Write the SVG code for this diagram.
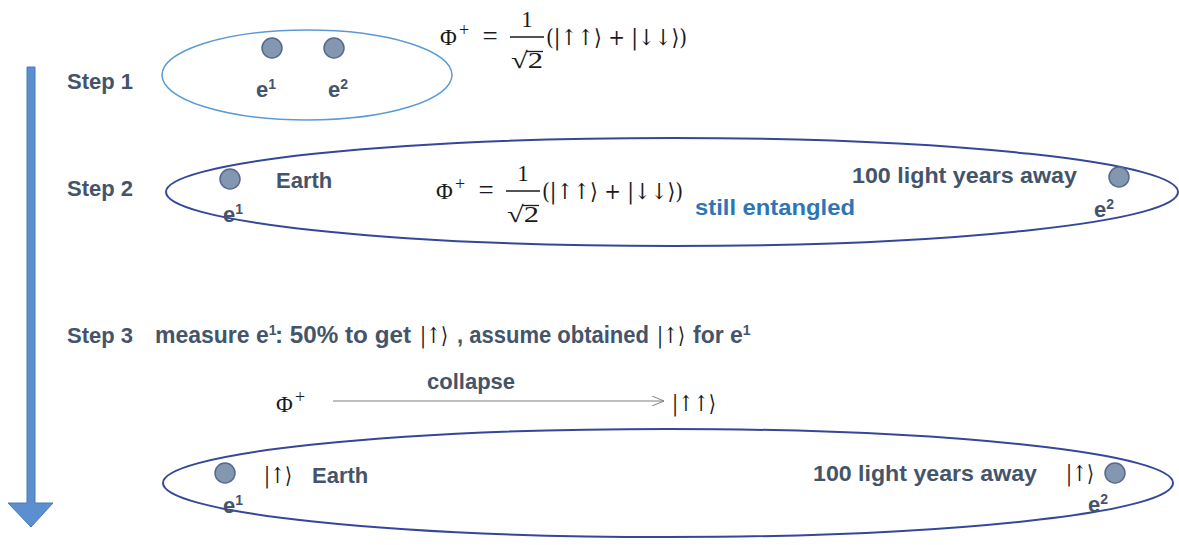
<svg xmlns="http://www.w3.org/2000/svg" width="1179" height="545" viewBox="0 0 1179 545">
<defs>
<style>
.b{font-family:"Liberation Sans",Arial,sans-serif;font-weight:bold;font-size:22px;fill:#44546a}
.b3{font-family:"Liberation Sans",Arial,sans-serif;font-weight:bold;font-size:23px;fill:#44546a}
.sup{font-family:"Liberation Sans",Arial,sans-serif;font-weight:bold;font-size:14px;fill:#44546a}
.m{font-family:"Liberation Serif","DejaVu Serif",serif;font-size:23px;fill:#1a1a1a}
.k{font-family:"DejaVu Serif",serif;font-size:22px;fill:#1a1a1a}
.ms{font-family:"Liberation Serif","DejaVu Serif",serif;font-size:18px;fill:#1a1a1a}
.bl{font-family:"Liberation Sans",Arial,sans-serif;font-weight:bold;font-size:22px;fill:#2e75b6}
.dot{fill:#8497b0;stroke:#56698f;stroke-width:1.5}
.ell1{fill:none;stroke:#5b9bd5;stroke-width:1.5}
.ell2{fill:none;stroke:#34479a;stroke-width:2}
.bar{stroke:#1a1a1a;stroke-width:1.3}
</style>
<marker id="open" viewBox="0 0 12 10" refX="12" refY="5" markerWidth="12" markerHeight="10" markerUnits="userSpaceOnUse" orient="auto">
<path d="M0,0 L12,5 L0,10" fill="none" stroke="#7f7f7f" stroke-width="1"/>
</marker>
<g id="eq">
<text class="m" x="440" y="45">Φ</text>
<text class="ms" x="459" y="36">+</text>
<text class="m" x="490" y="45" text-anchor="middle" style="font-size:27px">=</text>
<text class="m" x="527" y="27" text-anchor="middle">1</text>
<line class="bar" x1="510" y1="37" x2="544" y2="37"/>
<text class="m" x="511" y="68" textLength="32" lengthAdjust="spacingAndGlyphs">√2</text>
<line class="bar" x1="526" y1="51.5" x2="543" y2="51.5"/>
<text class="k" x="546" y="45" textLength="141" lengthAdjust="spacingAndGlyphs">(|↑↑⟩ + |↓↓⟩)</text>
</g>
</defs>

<g id="timeline">
<path d="M27,67 H35 V503 H53 L31,527 L8,503 H27 Z" fill="#5b8fcf" stroke="#4a78b5" stroke-width="1"/>
</g>

<g id="step1">
<text class="b" x="67" y="89">Step 1</text>
<ellipse class="ell1" cx="307" cy="75" rx="145" ry="45"/>
<circle class="dot" cx="272" cy="48" r="10"/>
<circle class="dot" cx="334" cy="48" r="10"/>
<text class="b" x="256" y="97">e<tspan class="sup" dy="-8">1</tspan></text>
<text class="b" x="328" y="97">e<tspan class="sup" dy="-8">2</tspan></text>
<use href="#eq"/>
</g>

<g id="step2">
<text class="b" x="67" y="196">Step 2</text>
<ellipse class="ell2" cx="672" cy="192" rx="506" ry="54"/>
<circle class="dot" cx="230" cy="179" r="10"/>
<text class="b" x="223" y="222">e<tspan class="sup" dy="-8">1</tspan></text>
<text class="b" x="276" y="188">Earth</text>
<use href="#eq" transform="translate(-4,154)"/>
<text class="bl" x="695" y="215" textLength="160" lengthAdjust="spacingAndGlyphs">still entangled</text>
<text class="b" x="852" y="183" textLength="225" lengthAdjust="spacingAndGlyphs">100 light years away</text>
<circle class="dot" cx="1119" cy="177" r="10"/>
<text class="b" x="1094" y="217">e<tspan class="sup" dy="-8">2</tspan></text>
</g>

<g id="step3">
<text class="b" x="67" y="343">Step 3</text>
<text class="b3" x="155" y="343">measure e<tspan class="sup" dy="-8">1</tspan></text>
<text class="b3" x="275" y="343" textLength="136" lengthAdjust="spacingAndGlyphs">: 50% to get</text>
<text class="k" x="420" y="343" textLength="28" lengthAdjust="spacingAndGlyphs">|↑⟩</text>
<text class="b3" x="457" y="343" textLength="192" lengthAdjust="spacingAndGlyphs">, assume obtained</text>
<text class="k" x="657" y="343" textLength="28" lengthAdjust="spacingAndGlyphs">|↑⟩</text>
<text class="b3" x="693" y="343">for e<tspan class="sup" dy="-8">1</tspan></text>
</g>

<g id="collapse">
<text class="m" x="276" y="412">Φ</text>
<text class="ms" x="295" y="403">+</text>
<text class="b" x="427" y="389">collapse</text>
<text class="k" x="672" y="411" textLength="44" lengthAdjust="spacingAndGlyphs">|↑↑⟩</text>
</g>

<g id="connectors">
<line x1="333" y1="401" x2="664" y2="401" stroke="#7f7f7f" stroke-width="1" marker-end="url(#open)"/>
</g>

<g id="step3-state">
<ellipse class="ell2" cx="668" cy="483" rx="505" ry="54"/>
<circle class="dot" cx="225" cy="473" r="10"/>
<text class="b" x="223" y="513">e<tspan class="sup" dy="-8">1</tspan></text>
<text class="k" x="264" y="483" textLength="28" lengthAdjust="spacingAndGlyphs">|↑⟩</text>
<text class="b" x="312" y="483">Earth</text>
<text class="b" x="813" y="481" textLength="224" lengthAdjust="spacingAndGlyphs">100 light years away</text>
<text class="k" x="1066" y="481" textLength="28" lengthAdjust="spacingAndGlyphs">|↑⟩</text>
<circle class="dot" cx="1115" cy="473" r="10"/>
<text class="b" x="1088" y="512">e<tspan class="sup" dy="-8">2</tspan></text>
</g>
</svg>
